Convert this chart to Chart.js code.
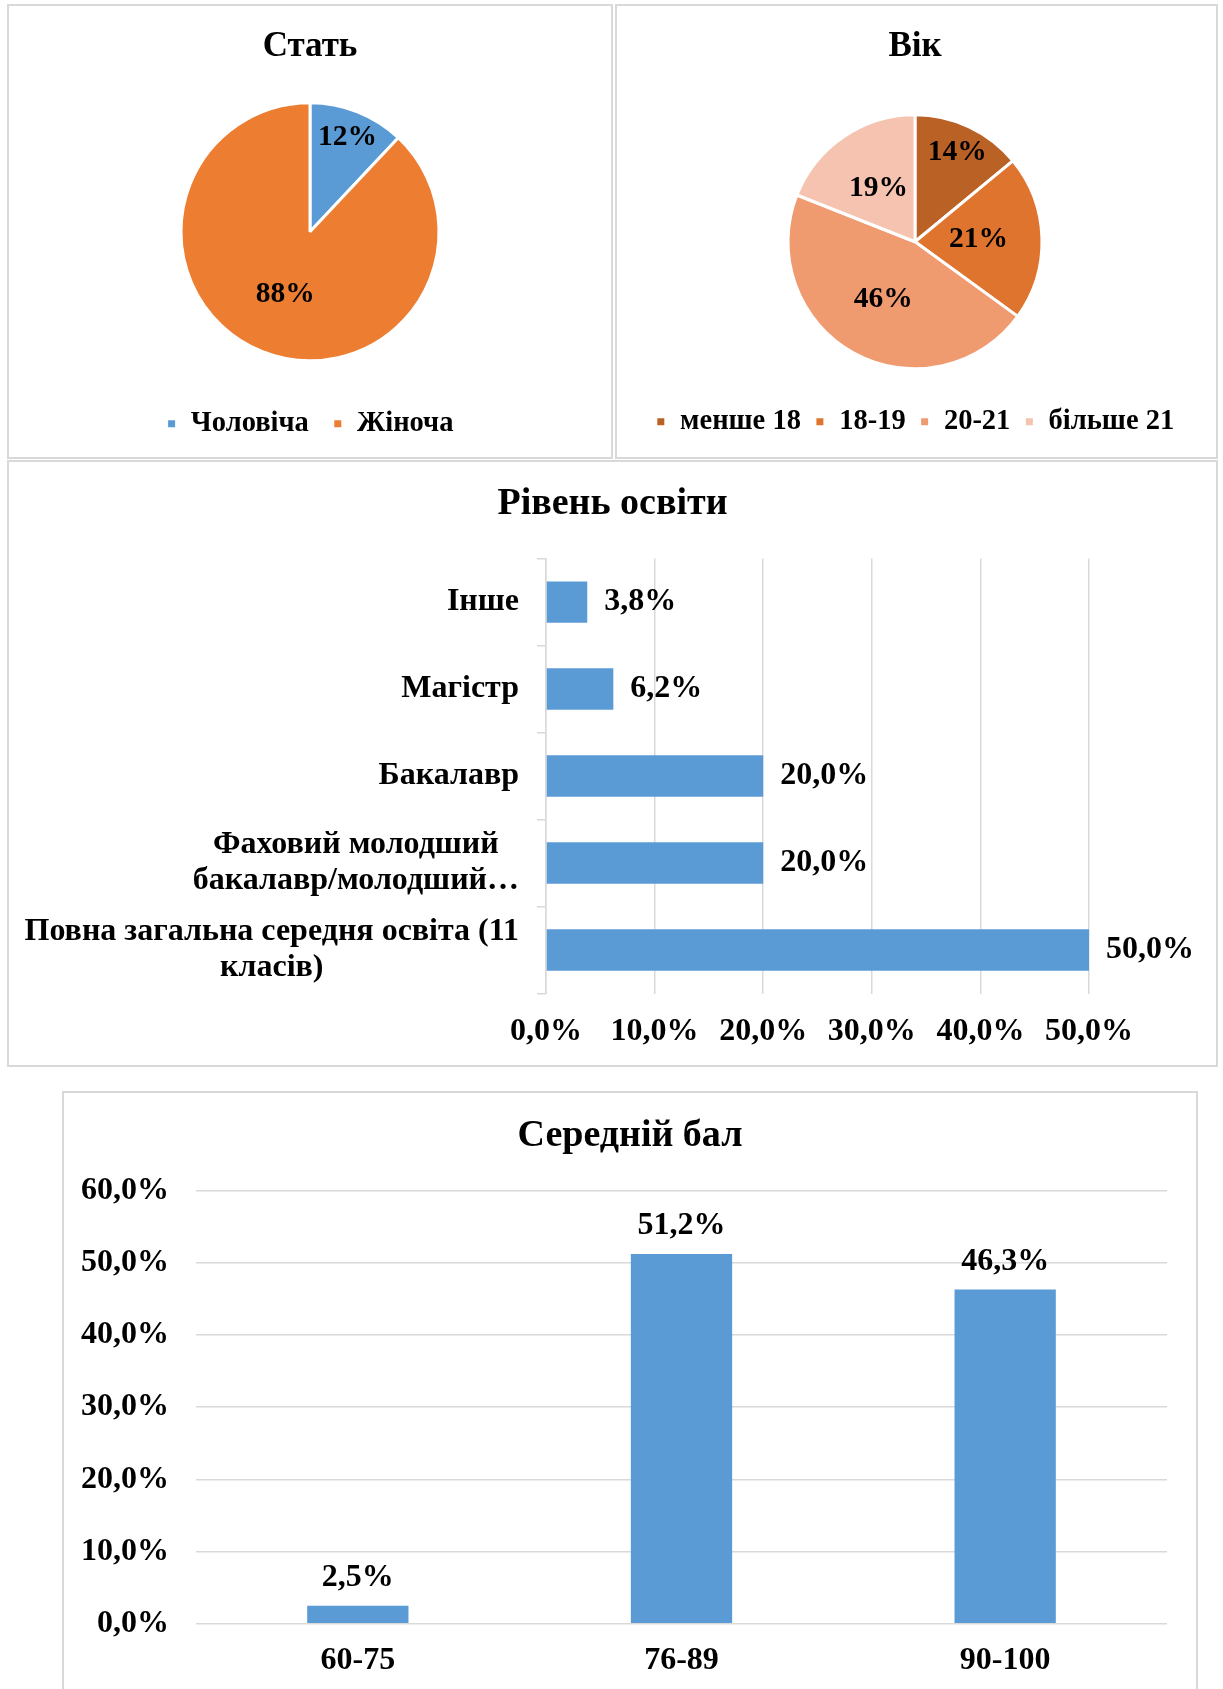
<!DOCTYPE html>
<html>
<head>
<meta charset="utf-8">
<script src="https://cdn.jsdelivr.net/npm/chart.js@4.4.1/dist/chart.umd.min.js"></script>
<style>
  html, body { margin: 0; padding: 0; background: #fff; }
  body { width: 1223px; height: 1689px; position: relative; overflow: hidden; }
  .panel { position: absolute; box-sizing: border-box; border: 2px solid #d9d9d9; }
  canvas { position: absolute; }
</style>
</head>
<body>
<div class="panel" style="left:7px;top:4px;width:606px;height:455px;"></div>
<div class="panel" style="left:615px;top:4px;width:603px;height:455px;"></div>
<div class="panel" style="left:7px;top:460px;width:1211px;height:607px;"></div>
<div class="panel" style="left:62px;top:1091px;width:1136px;height:640px;"></div>

<canvas id="c1" width="604" height="453" style="left:8px;top:5px;"></canvas>
<canvas id="c2" width="600" height="453" style="left:616px;top:5px;"></canvas>
<canvas id="c3" width="1209" height="605" style="left:8px;top:461px;"></canvas>
<canvas id="c4" width="1134" height="597" style="left:63px;top:1092px;"></canvas>

<script>
// ---------- DATA ----------
const genderTitle = 'Стать';
const genderLabels = ['Чоловіча', 'Жіноча'];
const genderValues = [12, 88];

const ageTitle = 'Вік';
const ageLabels = ['менше 18', '18-19', '20-21', 'більше 21'];
const ageValues = [14, 21, 46, 19];

const eduTitle = 'Рівень освіти';
const eduLabels = [
  'Інше',
  'Магістр',
  'Бакалавр',
  ['Фаховий молодший', 'бакалавр/молодший…'],
  ['Повна загальна середня освіта (11', 'класів)']
];
const eduValues = [3.8, 6.2, 20.0, 20.0, 50.0];

const scoreTitle = 'Середній бал';
const scoreLabels = ['60-75', '76-89', '90-100'];
const scoreValues = [2.5, 51.2, 46.3];

// ---------- STYLE ----------
const FONT = "'Liberation Serif','Times New Roman',serif";
const BLUE = '#5B9BD5';
const ORANGE = '#ED7D31';
const ageColors = ['#BA6125', '#DF742F', '#F09A70', '#F5C3B0'];
const GRID = '#d9d9d9';
const BAR_FS = 32;
const pct1 = v => v.toFixed(1).replace('.', ',') + '%';

Chart.defaults.font.family = FONT;
Chart.defaults.font.weight = 'bold';
Chart.defaults.color = '#000';

// label plugin for pies: radial fraction per slice
function pieLabelPlugin(fracs) {
  return {
    id: 'pieLabels',
    afterDatasetsDraw(chart) {
      const ctx = chart.ctx;
      const meta = chart.getDatasetMeta(0);
      const data = chart.data.datasets[0].data;
      ctx.save();
      ctx.font = `bold 29.5px ${FONT}`;
      ctx.fillStyle = '#000';
      ctx.textAlign = 'center';
      ctx.textBaseline = 'middle';
      meta.data.forEach((arc, i) => {
        const p = arc.getProps(['x', 'y', 'startAngle', 'endAngle', 'outerRadius'], true);
        const mid = (p.startAngle + p.endAngle) / 2;
        const r = p.outerRadius * fracs[i];
        ctx.fillText(Math.round(data[i]) + '%', p.x + Math.cos(mid) * r, p.y + Math.sin(mid) * r);
      });
      ctx.restore();
    }
  };
}

function pieChart(id, title, labels, values, colors, opts) {
  return new Chart(document.getElementById(id), {
    type: 'pie',
    data: {
      labels: labels,
      datasets: [{
        data: values,
        backgroundColor: colors,
        borderColor: '#fff',
        borderWidth: 3,
        radius: opts.radius
      }]
    },
    options: {
      responsive: false,
      animation: false,
      layout: { padding: opts.layout },
      plugins: {
        title: {
          display: true, text: title,
          font: { size: 35, weight: 'bold', family: FONT, lineHeight: 1.2 },
          color: '#000',
          padding: opts.titlePad
        },
        legend: {
          position: 'bottom',
          labels: {
            boxWidth: 10, boxHeight: 10,
            padding: opts.legendPad,
            color: '#000',
            font: { size: 28.5, weight: 'bold', family: FONT }
          }
        },
        tooltip: { enabled: false }
      }
    },
    plugins: [pieLabelPlugin(opts.fracs)]
  });
}

pieChart('c1', genderTitle, genderLabels, genderValues, [BLUE, ORANGE], {
  radius: 129,
  layout: { bottom: 10, left: 0, right: 0, top: 0 },
  titlePad: { top: 21, bottom: 10 },
  legendPad: 24,
  fracs: [0.79, 0.52]
});

pieChart('c2', ageTitle, ageLabels, ageValues, ageColors, {
  radius: 127,
  layout: { bottom: 12, left: 0, right: 2, top: 0 },
  titlePad: { top: 21, bottom: 22 },
  legendPad: 14,
  fracs: [0.78, 0.5, 0.52, 0.51]
});

// ---------- Horizontal bar: education ----------
const hbarLabels = {
  id: 'hbarLabels',
  afterDatasetsDraw(chart) {
    const ctx = chart.ctx;
    const meta = chart.getDatasetMeta(0);
    const data = chart.data.datasets[0].data;
    ctx.save();
    ctx.font = `bold ${BAR_FS}px ${FONT}`;
    ctx.fillStyle = '#000';
    ctx.textAlign = 'left';
    ctx.textBaseline = 'middle';
    meta.data.forEach((bar, i) => {
      ctx.fillText(pct1(data[i]), bar.x + 17, bar.y);
    });
    ctx.restore();
  }
};

// draws multi-line category labels with lines centred on each other, block right-aligned
const centeredCatLabels = {
  id: 'centeredCatLabels',
  afterDraw(chart) {
    const scale = chart.scales.y;
    const ctx = chart.ctx;
    const lh = BAR_FS * 1.12;
    ctx.save();
    ctx.font = `bold ${BAR_FS}px ${FONT}`;
    ctx.fillStyle = '#000';
    ctx.textAlign = 'center';
    ctx.textBaseline = 'middle';
    const rightEdge = scale.right - scale.options.grid.tickLength - scale.options.ticks.padding;
    chart.data.labels.forEach((lab, i) => {
      const lines = Array.isArray(lab) ? lab : [lab];
      const w = Math.max(...lines.map(l => ctx.measureText(l).width));
      const cx = rightEdge - w / 2;
      const cy = scale.getPixelForTick(i);
      lines.forEach((l, j) => {
        ctx.fillText(l, cx, cy + (j - (lines.length - 1) / 2) * lh);
      });
    });
    ctx.restore();
  }
};

new Chart(document.getElementById('c3'), {
  type: 'bar',
  data: {
    labels: eduLabels,
    datasets: [{
      data: eduValues,
      backgroundColor: BLUE,
      barPercentage: 0.476,
      categoryPercentage: 1.0
    }]
  },
  options: {
    indexAxis: 'y',
    responsive: false,
    animation: false,
    layout: { padding: 0 },
    scales: {
      x: {
        min: 0, max: 50,
        ticks: {
          stepSize: 10,
          padding: 19,
          color: '#000',
          font: { size: BAR_FS, weight: 'bold', family: FONT },
          callback: v => pct1(v),
          maxRotation: 0
        },
        grid: { color: GRID, lineWidth: 1.5, drawTicks: false },
        border: { display: false },
        afterFit: s => { s.height = 72.5; }
      },
      y: {
        ticks: {
          color: 'rgba(0,0,0,0)',
          padding: 18,
          autoSkip: false,
          font: { size: BAR_FS, weight: 'bold', family: FONT }
        },
        grid: { drawOnChartArea: false, drawTicks: true, tickLength: 9, color: GRID, lineWidth: 1.5 },
        border: { display: true, color: GRID, width: 1.5 },
        afterFit: s => { s.width = 538; }
      },
      rightSpace: {
        type: 'linear',
        position: 'right',
        display: true,
        ticks: { display: false },
        grid: { display: false, drawTicks: false },
        border: { display: false },
        afterFit: s => { s.width = 128; }
      }
    },
    plugins: {
      title: {
        display: true, text: eduTitle,
        font: { size: 38, weight: 'bold', family: FONT, lineHeight: 1.2 },
        color: '#000',
        padding: { top: 20, bottom: 32 }
      },
      legend: { display: false },
      tooltip: { enabled: false }
    }
  },
  plugins: [hbarLabels, centeredCatLabels]
});

// ---------- Vertical bar: scores ----------
const vbarLabels = {
  id: 'vbarLabels',
  afterDatasetsDraw(chart) {
    const ctx = chart.ctx;
    const meta = chart.getDatasetMeta(0);
    const data = chart.data.datasets[0].data;
    ctx.save();
    ctx.font = `bold ${BAR_FS}px ${FONT}`;
    ctx.fillStyle = '#000';
    ctx.textAlign = 'center';
    ctx.textBaseline = 'middle';
    meta.data.forEach((bar, i) => {
      ctx.fillText(pct1(data[i]), bar.x, bar.y - 28);
    });
    ctx.restore();
  }
};

new Chart(document.getElementById('c4'), {
  type: 'bar',
  data: {
    labels: scoreLabels,
    datasets: [{
      data: scoreValues,
      backgroundColor: BLUE,
      barPercentage: 0.313,
      categoryPercentage: 1.0
    }]
  },
  options: {
    responsive: false,
    animation: false,
    layout: { padding: 0 },
    scales: {
      x: {
        ticks: {
          padding: 18,
          color: '#000',
          font: { size: BAR_FS, weight: 'bold', family: FONT },
          maxRotation: 0
        },
        grid: { display: false, drawTicks: false },
        border: { display: false },
        afterFit: s => { s.height = 65.3; }
      },
      y: {
        min: 0, max: 60,
        ticks: {
          stepSize: 10,
          padding: 27,
          color: '#000',
          font: { size: BAR_FS, weight: 'bold', family: FONT },
          callback: v => pct1(v)
        },
        grid: { color: GRID, lineWidth: 1.5, drawTicks: false },
        border: { display: false },
        afterFit: s => { s.width = 133; }
      },
      rightSpace: {
        type: 'linear',
        position: 'right',
        display: true,
        ticks: { display: false },
        grid: { display: false, drawTicks: false },
        border: { display: false },
        afterFit: s => { s.width = 30; }
      }
    },
    plugins: {
      title: {
        display: true, text: scoreTitle,
        font: { size: 38, weight: 'bold', family: FONT, lineHeight: 1.2 },
        color: '#000',
        padding: { top: 21, bottom: 32 }
      },
      legend: { display: false },
      tooltip: { enabled: false }
    }
  },
  plugins: [vbarLabels]
});
</script>
</body>
</html>
